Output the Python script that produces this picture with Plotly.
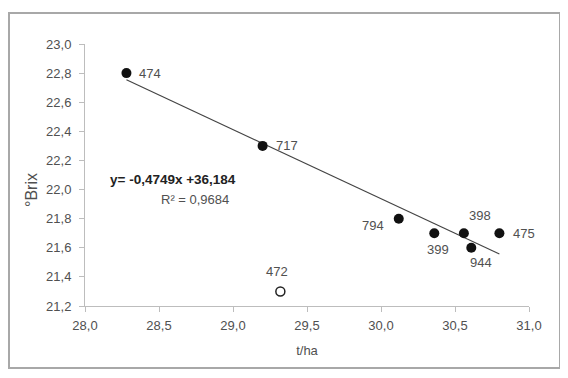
import plotly.graph_objects as go

# Data
labels = ["474", "717", "794", "399", "398", "944", "475"]
t_ha = [28.28, 29.20, 30.12, 30.36, 30.56, 30.61, 30.80]
brix = [22.8, 22.3, 21.8, 21.7, 21.7, 21.6, 21.7]

outlier_label = ["472"]
outlier_t_ha = [29.32]
outlier_brix = [21.3]

slope = -0.4749
intercept = 36.184
r2 = 0.9684

x_ticks = [28.0, 28.5, 29.0, 29.5, 30.0, 30.5, 31.0]
y_ticks = [21.2, 21.4, 21.6, 21.8, 22.0, 22.2, 22.4, 22.6, 22.8, 23.0]

# label offsets (pixels) for each point label
label_shift = {
    "474": (24, 0), "717": (24, 0), "794": (-26, -7), "399": (4, -16),
    "398": (16, 18), "944": (10, -15), "475": (25, 0), "472": (-3, 20),
}

FONT = "Liberation Sans, Arial, sans-serif"
TXT = "#505050"

fig = go.Figure()

x0, x1 = min(t_ha), max(t_ha)
fig.add_trace(go.Scatter(
    x=[x0, x1], y=[slope * x0 + intercept, slope * x1 + intercept],
    mode="lines", line=dict(color="#444444", width=1.2),
    hoverinfo="skip", showlegend=False))

fig.add_trace(go.Scatter(
    x=t_ha, y=brix, mode="markers",
    marker=dict(color="#111111", size=10, line=dict(width=0)),
    showlegend=False))

fig.add_trace(go.Scatter(
    x=outlier_t_ha, y=outlier_brix, mode="markers",
    marker=dict(color="white", size=9, line=dict(color="#222222", width=1.5)),
    showlegend=False))

annotations = []
for lab, xv, yv in zip(labels + outlier_label, t_ha + outlier_t_ha, brix + outlier_brix):
    dx, dy = label_shift[lab]
    annotations.append(dict(
        x=xv, y=yv, text=lab, showarrow=False, xshift=dx, yshift=dy,
        font=dict(family=FONT, size=13, color=TXT)))

annotations.append(dict(
    x=28.595, y=22.066, text="<b>y= -0,4749x +36,184</b>", showarrow=False,
    font=dict(family=FONT, size=13.5, color="#222222")))
annotations.append(dict(
    x=28.743, y=21.929, text="R² = " + f"{r2:.4f}".replace(".", ","), showarrow=False,
    font=dict(family=FONT, size=13, color=TXT)))
annotations.append(dict(
    xref="paper", yref="paper", x=(32 - 85) / 444, y=(306 - 190) / 262,
    xanchor="center", yanchor="middle",
    text="°Brix", textangle=-90, showarrow=False,
    font=dict(family=FONT, size=16, color=TXT)))

fig.update_layout(
    width=560, height=370,
    margin=dict(l=77, r=39, t=36, b=72),
    paper_bgcolor="white", plot_bgcolor="white",
    separators=",.",
    annotations=annotations,
    font=dict(family=FONT, size=13, color=TXT),
    shapes=[dict(type="rect", xref="paper", yref="paper",
                 x0=(9 - 85) / 444, x1=(560 - 85) / 444,
                 y0=(306 - 368) / 262, y1=(306 - 13) / 262,
                 line=dict(color="#a8a8a8", width=2), fillcolor="rgba(0,0,0,0)")],
    xaxis=dict(range=[28.0, 31.0], tickvals=x_ticks, tickformat=".1f",
               showgrid=False, zeroline=False, showline=True, linecolor="#bdbdbd",
               linewidth=1, ticks="outside", ticklen=5, tickcolor="#bdbdbd",
               ticklabelstandoff=2,
               tickfont=dict(family=FONT, size=13, color=TXT),
               title=dict(text="t/ha", font=dict(family=FONT, size=13, color=TXT), standoff=14)),
    yaxis=dict(range=[21.2, 23.0], tickvals=y_ticks, tickformat=".1f",
               showgrid=False, zeroline=False, showline=True, linecolor="#bdbdbd",
               linewidth=1, ticks="outside", ticklen=5, tickcolor="#bdbdbd",
               ticklabelstandoff=5,
               tickfont=dict(family=FONT, size=13, color=TXT)),
)

fig.write_html("out.html")
